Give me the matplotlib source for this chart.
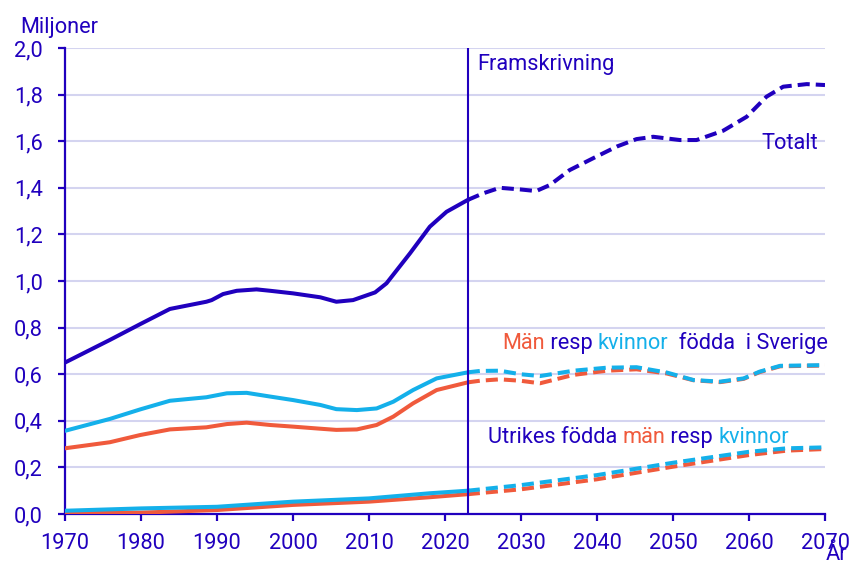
import matplotlib
matplotlib.use("Agg")
import matplotlib.pyplot as plt
from matplotlib.ticker import FuncFormatter, MultipleLocator

# ---- data (millions) ----
total_years = [1970, 1975.9, 1979.9, 1983.8, 1988.6, 1989.3, 1990.8, 1992.6, 1995.2, 1997, 2000,
               2003.6, 2005.7, 2007.9, 2010.8, 2012.3, 2015.4, 2018, 2020.2, 2023]
total_hist = [0.650, 0.747, 0.815, 0.880, 0.911, 0.918, 0.944, 0.958, 0.964, 0.958, 0.947,
              0.930, 0.911, 0.918, 0.951, 0.990, 1.119, 1.233, 1.297, 1.348]

sw_years = [1970, 1975.9, 1979.9, 1983.8, 1988.6, 1991.3, 1993.9, 1997, 2000, 2003.6, 2005.7,
            2008.4, 2011, 2013.2, 2015.8, 2018.9, 2023]
sw_women_hist = [0.357, 0.408, 0.449, 0.486, 0.501, 0.518, 0.520, 0.504, 0.489, 0.468, 0.450,
                 0.446, 0.453, 0.482, 0.532, 0.582, 0.608]
sw_men_hist = [0.282, 0.308, 0.339, 0.363, 0.372, 0.386, 0.392, 0.382, 0.375, 0.366, 0.361,
               0.363, 0.382, 0.418, 0.475, 0.532, 0.565]

fb_years = [1970, 1980, 1990, 2000, 2010, 2018, 2023]
fb_women_hist = [0.014, 0.024, 0.031, 0.053, 0.067, 0.089, 0.100]
fb_men_hist = [0.006, 0.006, 0.017, 0.039, 0.053, 0.072, 0.085]

tp_years = [2023, 2025, 2027.2, 2029.9, 2032, 2033.8, 2036.4, 2039.5, 2042.6, 2045.2, 2047.4,
            2050.9, 2053.1, 2056.6, 2059.7, 2062.3, 2064.5, 2067.6, 2070]
total_proj = [1.348, 1.376, 1.400, 1.393, 1.386, 1.412, 1.476, 1.527, 1.577, 1.609, 1.619,
              1.605, 1.605, 1.645, 1.705, 1.791, 1.834, 1.845, 1.841]

sp_years = [2023, 2024.6, 2027.2, 2029.9, 2032.5, 2036.9, 2041.3, 2045.2, 2049.2, 2052.7,
            2056.2, 2059.3, 2061.4, 2064.1, 2070]
sw_women_proj = [0.608, 0.614, 0.615, 0.600, 0.592, 0.615, 0.628, 0.630, 0.607, 0.575,
                 0.568, 0.582, 0.611, 0.636, 0.639]
sw_men_proj = [0.565, 0.572, 0.578, 0.572, 0.561, 0.597, 0.615, 0.621, 0.603, 0.574,
               0.566, 0.580, 0.609, 0.634, 0.637]

fbp_years = [2023, 2030, 2040, 2050, 2060, 2065, 2070]
fb_women_proj = [0.100, 0.124, 0.167, 0.220, 0.267, 0.282, 0.286]
fb_men_proj = [0.085, 0.106, 0.149, 0.203, 0.253, 0.272, 0.279]

split_year = 2023
x_ticks = list(range(1970, 2071, 10))

# ---- style ----
DARK = "#2000BE"
ORANGE = "#F05A3C"
LIGHT = "#14B0EA"
GRID = "#D4D4F0"
plt.rcParams['font.family'] = ['Roboto', 'DejaVu Sans']
FS = 15.7

fig = plt.figure(figsize=(8.5, 5.66), dpi=100)
ax = fig.add_axes([65/850, 52/566, 760/850, 466/566])

lw = 2.9
dash = (3.0, 1.5)

ax.plot(total_years, total_hist, color=DARK, lw=lw, zorder=5)
ax.plot(tp_years, total_proj, color=DARK, lw=lw, dashes=dash, zorder=5)

ax.plot(sw_years, sw_men_hist, color=ORANGE, lw=lw, zorder=3)
ax.plot(sp_years, sw_men_proj, color=ORANGE, lw=lw, dashes=dash, zorder=3)
ax.plot(sw_years, sw_women_hist, color=LIGHT, lw=lw, zorder=4)
ax.plot(sp_years, sw_women_proj, color=LIGHT, lw=lw, dashes=dash, zorder=4)

ax.plot(fb_years, fb_men_hist, color=ORANGE, lw=lw, zorder=3)
ax.plot(fbp_years, fb_men_proj, color=ORANGE, lw=lw, dashes=dash, zorder=3)
ax.plot(fb_years, fb_women_hist, color=LIGHT, lw=lw, zorder=4)
ax.plot(fbp_years, fb_women_proj, color=LIGHT, lw=lw, dashes=dash, zorder=4)

ax.axvline(split_year, color=DARK, lw=1.5, zorder=6)

ax.set_xlim(1970, 2070)
ax.set_ylim(0, 2.0)
ax.set_xticks(x_ticks)
ax.yaxis.set_major_locator(MultipleLocator(0.2))
ax.yaxis.set_major_formatter(FuncFormatter(lambda v, p: f"{v:.1f}".replace('.', ',')))
ax.grid(axis='y', color=GRID, lw=1.5, zorder=0)
ax.set_axisbelow(True)
for s in ['top', 'right']:
    ax.spines[s].set_visible(False)
for s in ['left', 'bottom']:
    ax.spines[s].set_color(DARK)
    ax.spines[s].set_linewidth(1.6)
ax.tick_params(axis='both', colors=DARK, labelcolor=DARK, labelsize=FS, length=5, width=1.6, direction='out')
ax.tick_params(axis='x', pad=9)
ax.tick_params(axis='y', pad=11)

fig.text(20/850, 1 - 33/566, "Miljoner", color=DARK, fontsize=FS, ha='left', va='baseline')
fig.text(836/850, 0.001, "År", color=DARK, fontsize=FS, ha='center', va='bottom')

ax.text(2024.3, 1.905, "Framskrivning", color=DARK, fontsize=FS, ha='left', va='baseline')
ax.text(2065.3, 1.565, "Totalt", color=DARK, fontsize=FS, ha='center', va='baseline')


def multi(x, y, parts):
    t = ax.text(x, y, parts[0][0], color=parts[0][1], fontsize=FS, ha='left', va='bottom')
    prev = t
    for s, c in parts[1:]:
        prev = ax.annotate(s, xy=(1, 0), xycoords=prev, color=c, fontsize=FS, ha='left', va='bottom')
    return t

multi(2027.5, 0.685, [("Män", ORANGE), (" resp ", DARK), ("kvinnor", LIGHT), ("  födda  i Sverige", DARK)])
multi(2025.6, 0.285, [("Utrikes födda ", DARK), ("män", ORANGE), (" resp ", DARK), ("kvinnor", LIGHT)])

fig.savefig("out.png", dpi=100)
